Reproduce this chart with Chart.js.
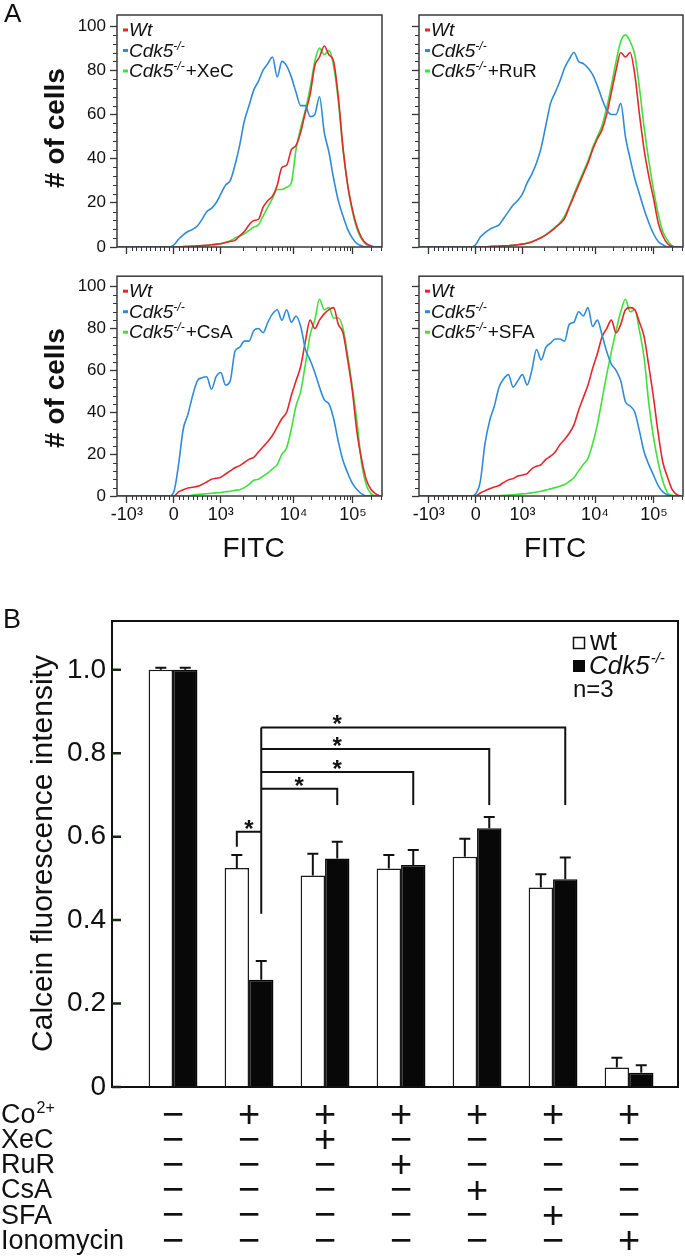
<!DOCTYPE html>
<html><head><meta charset="utf-8">
<script src="https://cdn.jsdelivr.net/npm/chart.js@4.4.1/dist/chart.umd.min.js"></script>
<style>
html,body{margin:0;padding:0;background:#fff;}
#wrap{position:relative;width:685px;height:1256px;overflow:hidden;background:#fff;}
canvas{position:absolute;}
</style></head><body>
<div id="wrap">
<canvas id="tl" width="395" height="262" style="left:0;top:0;width:395px;height:262px"></canvas>
<canvas id="tr" width="290" height="262" style="left:395px;top:0;width:290px;height:262px"></canvas>
<canvas id="bl" width="395" height="300" style="left:0;top:262px;width:395px;height:300px"></canvas>
<canvas id="br" width="290" height="300" style="left:395px;top:262px;width:290px;height:300px"></canvas>
<canvas id="bars" width="685" height="666" style="left:0;top:590px;width:685px;height:666px"></canvas>
</div>
<script>
const FONT = '"Liberation Sans", Arial, Helvetica, sans-serif';

// ---------- Panel A: flow cytometry histograms ----------
// x = display channel of the biexponential FITC axis
const fitcChannel = [-1.2, -0.1,
 0, 0.1, 0.2, 0.3, 0.4, 0.5, 0.6, 0.7, 0.8, 0.9,
 1.0, 1.1, 1.2, 1.3, 1.4, 1.5, 1.6, 1.7, 1.8, 1.9,
 2.0, 2.1, 2.2, 2.3, 2.4, 2.5, 2.6, 2.7, 2.8, 2.9,
 3.0, 3.1, 3.2, 3.3, 3.4, 3.5, 3.6, 3.7, 3.8, 3.9,
 4.0, 4.1, 4.2, 4.3, 4.4];
const fitcTickPos = [-1, 0, 1, 2.55, 3.81];
const fitcTickLabels = ['-10³', '0', '10³', '10⁴', '10⁵'];
const countTicks = [0, 20, 40, 60, 80, 100];
const treatmentsA = ['XeC', 'RuR', 'CsA', 'SFA'];

// XeC panel
const xecWt = [0, 0,
 0, 0, 0.2, 0.3, 0.4, 0.5, 0.7, 0.8, 1, 1.2,
 1.5, 2, 2.5, 3, 5, 7, 10, 12, 12.5, 18,
 21, 23, 28, 36, 37, 44, 46, 52, 61, 69,
 82, 86, 91, 87, 84, 68, 45, 28, 17, 9,
 4, 1.5, 0.5, 0, 0];
const xecKo = [0, 0,
 1, 3.5, 5.5, 7, 8, 9.5, 12.5, 16, 17.5, 20,
 24, 28, 30, 37, 46, 57, 64, 71, 75, 80,
 83, 86, 77, 84, 82, 77, 70, 64, 64, 59,
 60, 68, 52, 43, 31, 21, 14, 8, 4, 1.5,
 0.5, 0, 0, 0, 0];
const xecTreated = [0, 0,
 0, 0, 0, 0, 0, 0.3, 0.5, 0.7, 1, 1.3,
 1.6, 2, 2.8, 4, 5, 6, 7.5, 9, 10, 14,
 18, 22, 26, 26, 27, 29, 44, 54, 62, 72,
 84, 90, 87, 89, 82, 66, 44, 28, 16, 8,
 3.5, 1, 0.3, 0, 0];
// RuR panel
const rurWt = [0, 0,
 0, 0, 0, 0.2, 0.3, 0.4, 0.5, 0.6, 0.8, 1,
 1.3, 1.7, 2.3, 3.2, 4.2, 5.5, 7, 8.7, 10.5, 13,
 18, 23, 28, 33, 38, 44, 49, 53, 60, 70,
 80, 88, 86, 88, 78, 60, 44, 32, 22, 11,
 5, 1.5, 0.3, 0, 0];
const rurKo = [0, 0,
 1, 4.5, 6.5, 8, 9, 10, 13, 16, 19, 21,
 24, 29, 33, 38, 45, 55, 65, 70, 75, 81,
 85, 88, 84, 83, 81, 78, 73, 67, 62, 60,
 60, 65, 50, 40, 31, 24, 17, 11, 6, 2.5,
 1, 0, 0, 0, 0];
const rurTreated = [0, 0,
 0, 0, 0, 0.2, 0.3, 0.4, 0.5, 0.6, 0.8, 1,
 1.3, 1.8, 2.4, 3.3, 4.3, 5.6, 7.2, 9, 11, 14,
 18.5, 24, 29, 34, 39, 45, 50, 55, 63, 73,
 84, 93, 96, 93, 87, 72, 54, 39, 26, 15,
 7, 3, 0.5, 0, 0];
// CsA panel
const csaWt = [0, 0,
 0, 2, 3, 3.8, 4.2, 4.6, 5.5, 6.7, 8, 8.5,
 9, 10.5, 12, 13.5, 14.5, 16, 17.5, 18.5, 21, 23.5,
 26, 29, 33, 37, 40, 48, 55, 62, 74, 84,
 80, 84, 87, 89, 90, 82, 78, 65, 50, 30,
 17, 7.5, 3, 1, 0];
const csaKo = [0, 0,
 2, 15, 32, 39, 48, 55, 56.5, 57, 51, 57,
 59, 53, 55, 69, 71, 74, 74, 79, 80, 78,
 83, 87, 89, 84, 89, 83, 86, 81, 70, 65,
 59, 52, 46, 44, 37, 26, 17, 11, 6, 3,
 1, 0, 0, 0, 0];
const csaTreated = [0, 0,
 0, 0, 0, 0, 0.5, 0.7, 0.9, 1.1, 1.3, 1.5,
 1.7, 2, 2.3, 2.7, 3, 4, 5.5, 7.5, 8, 9.5,
 11, 13, 15, 20, 23, 32, 43, 50, 63, 77,
 84, 94, 89, 90, 85, 85, 80, 67, 52, 35,
 15, 5, 1, 0, 0];
// SFA panel
const sfaWt = [0, 0,
 0, 1.4, 2.5, 3.5, 4.3, 5, 6.5, 7.7, 8.3, 9.5,
 10, 10.7, 13, 14.2, 15, 17.5, 19, 21, 24.5, 27,
 30, 34, 41, 47, 53, 61, 68, 76, 80, 84,
 78, 82, 89, 90, 89, 83, 76, 62, 47, 30,
 16, 9, 3, 0.6, 0];
const sfaKo = [0, 0,
 1, 7, 25, 36, 43, 52, 56, 58, 52, 55,
 58, 53, 60, 70, 65, 71, 73, 75, 75, 74,
 82, 83, 88, 86, 90, 81, 84, 77, 69, 63,
 60, 55, 45, 43, 40, 31, 21, 15, 10, 5,
 2, 0.5, 0, 0, 0];
const sfaTreated = [0, 0,
 0, 0, 0, 0, 0, 0.2, 0.3, 0.4, 0.6, 0.8,
 1, 1.2, 1.5, 1.9, 2.3, 2.8, 3.4, 4, 4.7, 5.5,
 7, 8.7, 12, 15, 18, 25, 34, 46, 58, 69,
 79, 88, 94, 88, 89, 79, 66, 44, 28, 16,
 7, 1.5, 0.3, 0, 0];

const colWt = '#e5262c', colKo = '#2f8bd8', colTreated = '#3fe03b';

// minor tick positions of the axes
const minorX = [];
for (let k = 1; k < 10; k++) { minorX.push(-1 + k * 0.1); minorX.push(k * 0.1); }
for (let k = 2; k < 10; k++) { minorX.push(1 + 1.55 * Math.log10(k)); minorX.push(2.55 + 1.26 * Math.log10(k)); }
minorX.push(3.81 + 1.26 * Math.log10(2)); minorX.push(3.81 + 1.26 * Math.log10(3));
const minorY = [];
for (let v = 4; v < 104; v += 4) { if (v % 20 !== 0) minorY.push(v); }

function drawLegendA(ctx, a, treatment) {
  const rows = [
    {c: colWt, parts: [{t: 'Wt', f: 'italic 19px ' + FONT}]},
    {c: colKo, parts: [{t: 'Cdk5', f: 'italic 19px ' + FONT}, {t: '-/-', f: 'italic 12px ' + FONT, up: 7}]},
    {c: colTreated, parts: [{t: 'Cdk5', f: 'italic 19px ' + FONT}, {t: '-/-', f: 'italic 12px ' + FONT, up: 7}, {t: '+' + treatment, f: '19px ' + FONT}]}
  ];
  const base = [a.top + 21, a.top + 41.5, a.top + 62];
  rows.forEach((r, i) => {
    const y = base[i];
    ctx.fillStyle = r.c;
    ctx.fillRect(a.left + 6, y - 7.5, 5, 3);
    let x = a.left + 12;
    ctx.fillStyle = '#111';
    ctx.textAlign = 'left'; ctx.textBaseline = 'alphabetic';
    r.parts.forEach(p => {
      ctx.font = p.f;
      ctx.fillText(p.t, x, y - (p.up || 0));
      x += ctx.measureText(p.t).width + (p.up ? 1 : 0);
    });
  });
}

function makeHist(id, box, area, wt, ko, tr, treatment, showX, showY, extra) {
  const cv = document.getElementById(id);
  const pts = arr => fitcChannel.map((x, i) => ({x: x, y: arr[i]}));
  const ds = (lab, arr, col) => ({label: lab, data: pts(arr), borderColor: col, borderWidth: 1.6,
    pointRadius: 0, fill: false, cubicInterpolationMode: 'monotone'});
  const plug = {
    id: 'hist_' + id,
    afterDraw(chart) {
      const ctx = chart.ctx, a = chart.chartArea, xs = chart.scales.x, ys = chart.scales.y;
      ctx.save();
      ctx.strokeStyle = '#333'; ctx.lineWidth = 1;
      ctx.beginPath();
      minorX.forEach(v => { const p = Math.round(xs.getPixelForValue(v)) + 0.5; ctx.moveTo(p, a.bottom); ctx.lineTo(p, a.bottom + 4); });
      minorY.forEach(v => { const p = Math.round(ys.getPixelForValue(v)) + 0.5; ctx.moveTo(a.left - 4, p); ctx.lineTo(a.left, p); });
      ctx.stroke();
      ctx.strokeStyle = '#3a3a3a'; ctx.lineWidth = 1.5;
      ctx.strokeRect(a.left, a.top, a.right - a.left, a.bottom - a.top);
      drawLegendA(ctx, a, treatment);
      if (extra) extra(ctx, a);
      ctx.restore();
    }
  };
  return new Chart(cv, {
    type: 'line',
    data: {datasets: [ds('Cdk5-/-', ko, colKo), ds('Wt', wt, colWt), ds('Cdk5-/-+' + treatment, tr, colTreated)]},
    options: {
      responsive: false, animation: false, devicePixelRatio: 1,
      layout: {padding: {left: 0, top: area.t - box.y, right: box.x + box.w - area.r, bottom: 0}},
      plugins: {legend: {display: false}, tooltip: {enabled: false}},
      scales: {
        x: {type: 'linear', min: -1.21, max: 4.43,
          afterFit(s) { s.height = box.y + box.h - area.b; },
          afterBuildTicks(s) { s.ticks = fitcTickPos.map(v => ({value: v})); },
          ticks: {callback: (v, i) => showX ? fitcTickLabels[i] : '', autoSkip: false, maxRotation: 0, minRotation: 0,
            font: {family: FONT, size: 18}, color: '#111', padding: 1},
          grid: {drawOnChartArea: false, drawTicks: true, tickLength: 7, tickColor: '#333', tickWidth: 1.3},
          border: {display: false}},
        y: {type: 'linear', min: 0, max: 105,
          afterFit(s) { s.width = area.l - box.x; },
          afterBuildTicks(s) { s.ticks = countTicks.map(v => ({value: v})); },
          ticks: {callback: (v, i) => showY ? String(countTicks[i]) : '', font: {family: FONT, size: 17}, color: '#111', padding: 4},
          grid: {drawOnChartArea: false, drawTicks: true, tickLength: 7, tickColor: '#333', tickWidth: 1.3},
          border: {display: false}}
      }
    },
    plugins: [plug]
  });
}

function yTitleA(ctx, cy) {
  ctx.save();
  ctx.translate(64, cy); ctx.rotate(-Math.PI / 2);
  ctx.font = 'bold 28px ' + FONT; ctx.fillStyle = '#111';
  ctx.textAlign = 'center'; ctx.textBaseline = 'alphabetic';
  ctx.fillText('# of cells', 0, 0);
  ctx.restore();
}
function fitcTitle(ctx, a) {
  ctx.font = '28px ' + FONT; ctx.fillStyle = '#111';
  ctx.textAlign = 'center'; ctx.textBaseline = 'alphabetic';
  ctx.fillText('FITC', (a.left + a.right) / 2 + 4, a.bottom + 61);
}

makeHist('tl', {x: 0, y: 0, w: 395, h: 262}, {l: 117, t: 15, r: 382, b: 247}, xecWt, xecKo, xecTreated, treatmentsA[0], false, true,
  (ctx, a) => {
    ctx.font = '26px ' + FONT; ctx.fillStyle = '#111'; ctx.textAlign = 'left'; ctx.textBaseline = 'alphabetic';
    ctx.fillText('A', 4, 22);
    yTitleA(ctx, 128);
  });
makeHist('tr', {x: 395, y: 0, w: 290, h: 262}, {l: 419, t: 15, r: 683, b: 247}, rurWt, rurKo, rurTreated, treatmentsA[1], false, false, null);
makeHist('bl', {x: 0, y: 262, w: 395, h: 300}, {l: 117, t: 273, r: 382, b: 496}, csaWt, csaKo, csaTreated, treatmentsA[2], true, true,
  (ctx, a) => { yTitleA(ctx, 126); fitcTitle(ctx, a); });
makeHist('br', {x: 395, y: 262, w: 290, h: 300}, {l: 419, t: 273, r: 683, b: 496}, sfaWt, sfaKo, sfaTreated, treatmentsA[3], true, false,
  (ctx, a) => { fitcTitle(ctx, a); });

// ---------- Panel B: calcein bar chart ----------
const groups = [1, 2, 3, 4, 5, 6, 7];
const wtMean = [1.0, 0.525, 0.507, 0.524, 0.552, 0.478, 0.047];
const wtErr = [0.005, 0.031, 0.052, 0.032, 0.043, 0.032, 0.023];
const koMean = [1.0, 0.257, 0.548, 0.532, 0.620, 0.498, 0.034];
const koErr = [0.005, 0.045, 0.040, 0.036, 0.027, 0.052, 0.018];
const calceinTicks = [0, 0.2, 0.4, 0.6, 0.8, 1.0];
const calceinTickLabels = ['0', '0.2', '0.4', '0.6', '0.8', '1.0'];
const rowLabels = ['Co', 'XeC', 'RuR', 'CsA', 'SFA', 'Ionomycin'];
const rowSup = ['2+', '', '', '', '', ''];
const treatmentTable = [
  [0, 1, 1, 1, 1, 1, 1],
  [0, 0, 1, 0, 0, 0, 0],
  [0, 0, 0, 1, 0, 0, 0],
  [0, 0, 0, 0, 1, 0, 0],
  [0, 0, 0, 0, 0, 1, 0],
  [0, 0, 0, 0, 0, 0, 1]
];
// significance brackets (value units)
const pairBracket = {group: 1, leg: 0.576, top: 0.612};
const compTargets = [2, 3, 4, 5];
const compLevels = [0.715, 0.755, 0.81, 0.862];
const compDrop = 0.676;
const trunkBottom = 0.415;

const barPlugin = {
  id: 'barExtras',
  afterDatasetsDraw(chart) {
    const ctx = chart.ctx, a = chart.chartArea, ys = chart.scales.y;
    const m0 = chart.getDatasetMeta(0), m1 = chart.getDatasetMeta(1);
    const Y = v => ys.getPixelForValue(v);
    ctx.save();
    ctx.strokeStyle = '#111'; ctx.lineWidth = 2;
    // error bars
    [[m0, wtMean, wtErr], [m1, koMean, koErr]].forEach(([m, mean, err]) => {
      m.data.forEach((bar, i) => {
        const x = bar.x, y0 = Y(mean[i]), y1 = Y(mean[i] + err[i]);
        ctx.beginPath();
        ctx.moveTo(x, y0); ctx.lineTo(x, y1);
        ctx.moveTo(x - 5.5, y1); ctx.lineTo(x + 5.5, y1);
        ctx.stroke();
      });
    });
    // brackets
    const star = (x, y) => {
      ctx.font = 'bold 24px ' + FONT; ctx.fillStyle = '#111';
      ctx.textAlign = 'center'; ctx.textBaseline = 'alphabetic';
      ctx.fillText('*', x, y + 5);
    };
    const xw = m0.data[pairBracket.group].x, xk = m1.data[pairBracket.group].x;
    ctx.beginPath();
    ctx.moveTo(xw, Y(pairBracket.leg)); ctx.lineTo(xw, Y(pairBracket.top)); ctx.lineTo(xk, Y(pairBracket.top));
    ctx.moveTo(xk, Y(Math.max(...compLevels))); ctx.lineTo(xk, Y(trunkBottom));
    compTargets.forEach((t, k) => {
      const xt = m1.data[t].x, yl = Y(compLevels[k]);
      ctx.moveTo(xk, yl); ctx.lineTo(xt, yl); ctx.lineTo(xt, Y(compDrop));
    });
    ctx.stroke();
    star((xw + xk) / 2, Y(pairBracket.top));
    compTargets.forEach((t, k) => {
      const xt = m1.data[t].x;
      star(k === 0 ? (xk + xt) / 2 : m1.data[compTargets[0]].x, Y(compLevels[k]));
    });
    ctx.restore();
  },
  afterDraw(chart) {
    const ctx = chart.ctx, a = chart.chartArea, ys = chart.scales.y, xs = chart.scales.x;
    ctx.save();
    // frame
    ctx.strokeStyle = '#111'; ctx.lineWidth = 2;
    ctx.strokeRect(a.left, a.top, a.right - a.left, a.bottom - a.top);
    // inward ticks
    ctx.strokeStyle = '#182616'; ctx.lineWidth = 2.5;
    ctx.beginPath();
    calceinTicks.forEach(v => { const y = ys.getPixelForValue(v); ctx.moveTo(a.left, y); ctx.lineTo(a.left + 9, y); });
    ctx.stroke();
    // panel letter
    ctx.fillStyle = '#111'; ctx.textAlign = 'left'; ctx.textBaseline = 'alphabetic';
    ctx.font = '27px ' + FONT;
    ctx.fillText('B', 3, 38);
    // y title
    ctx.save();
    ctx.translate(52, 263.5); ctx.rotate(-Math.PI / 2);
    ctx.font = '30px ' + FONT; ctx.textAlign = 'center';
    ctx.fillText('Calcein fluorescence intensity', 0, 0);
    ctx.restore();
    // legend
    ctx.lineWidth = 1.5; ctx.strokeStyle = '#111';
    ctx.fillStyle = '#fff'; ctx.fillRect(573.5, 47.5, 11, 11); ctx.strokeRect(573.5, 47.5, 11, 11);
    ctx.fillStyle = '#080808'; ctx.fillRect(573, 70, 12, 12);
    ctx.fillStyle = '#111';
    ctx.font = '27px ' + FONT; ctx.fillText('wt', 590, 60);
    ctx.font = 'italic 26px ' + FONT; ctx.fillText('Cdk5', 589, 84);
    let w = ctx.measureText('Cdk5').width;
    ctx.font = 'italic 15px ' + FONT; ctx.fillText('-/-', 589 + w + 1, 73);
    ctx.font = '24px ' + FONT; ctx.fillText('n=3', 573, 107);
    // treatment table
    const rowY = r => 523 + 25.2 * r;
    rowLabels.forEach((lab, r) => {
      const y = rowY(r);
      ctx.textAlign = 'left';
      ctx.font = '27px ' + FONT;
      ctx.fillText(lab, 1, y + 9.7);
      if (rowSup[r]) {
        const lw = ctx.measureText(lab).width;
        ctx.font = '16px ' + FONT;
        ctx.fillText(rowSup[r], 1 + lw + 1, y);
      }
      ctx.font = '38px ' + FONT; ctx.textAlign = 'center';
      treatmentTable[r].forEach((on, j) => {
        const s = on ? '+' : '\u2212';
        const mt = ctx.measureText(s);
        const off = (mt.actualBoundingBoxAscent - mt.actualBoundingBoxDescent) / 2;
        ctx.fillText(s, xs.getPixelForValue(groups[j]), y + 1 + off);
      });
    });
    ctx.restore();
  }
};

new Chart(document.getElementById('bars'), {
  type: 'bar',
  data: {datasets: [
    {label: 'wt', data: groups.map((g, i) => ({x: g, y: wtMean[i]})), backgroundColor: '#ffffff', borderColor: '#1a1a1a', borderWidth: 1.5,
      categoryPercentage: 0.8, barPercentage: 1.0},
    {label: 'Cdk5-/-', data: groups.map((g, i) => ({x: g, y: koMean[i]})), backgroundColor: '#080808', borderColor: '#080808', borderWidth: 1.5,
      categoryPercentage: 0.8, barPercentage: 1.0}
  ]},
  options: {
    responsive: false, animation: false, devicePixelRatio: 1,
    layout: {padding: {left: 0, top: 31, right: 7, bottom: 169}},
    plugins: {legend: {display: false}, tooltip: {enabled: false}},
    scales: {
      x: {type: 'linear', min: 0.197, max: 7.644, display: false, offset: false, grid: {offset: false}},
      y: {type: 'linear', min: 0, max: 1.117,
        afterFit(s) { s.width = 112; },
        afterBuildTicks(s) { s.ticks = calceinTicks.map(v => ({value: v})); },
        ticks: {callback: (v, i) => calceinTickLabels[i], font: {family: FONT, size: 28}, color: '#111', padding: 6},
        grid: {display: true, drawOnChartArea: false, drawTicks: false},
        border: {display: false}}
    }
  },
  plugins: [barPlugin]
});
</script>
</body></html>
